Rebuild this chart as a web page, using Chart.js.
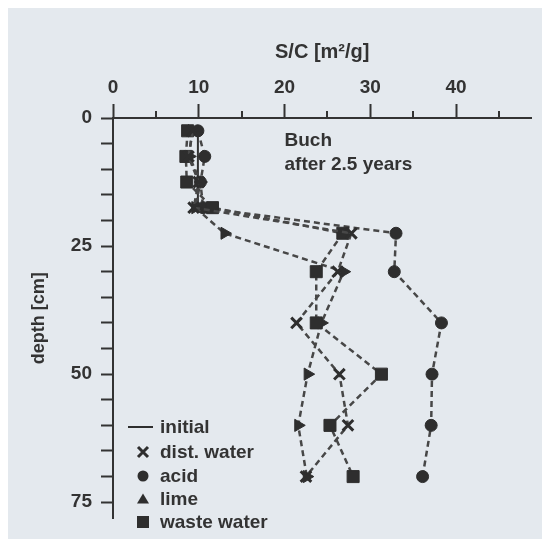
<!DOCTYPE html>
<html>
<head>
<meta charset="utf-8">
<script src="https://cdn.jsdelivr.net/npm/chart.js@4.4.0/dist/chart.umd.min.js"></script>
<style>
  html, body { margin: 0; padding: 0; background: #ffffff; }
  #c { display: block; }
</style>
</head>
<body>
<canvas id="c" width="542" height="539"></canvas>
<script>
// ---- data ----
const depths = [2.5, 7.5, 12.5, 17.5, 22.5, 30, 40, 50, 60, 70];
const initialDepths = [2.5, 7.5, 12.5, 17.5];
const initialValues = [9.9, 9.9, 9.9, 9.9];
const distWater = [9.3, 8.8, 10.0, 9.4, 27.8, 26.2, 21.4, 26.4, 27.4, 22.5];
const acid      = [9.9, 10.7, 10.2, 10.5, 33.0, 32.8, 38.3, 37.2, 37.1, 36.1];
const lime      = [9.2, 8.9, 10.2, 9.6, 13.0, 26.9, 24.3, 22.7, 21.6, 22.6];
const wasteWater= [8.7, 8.5, 8.6, 11.6, 26.8, 23.7, 23.7, 31.3, 25.3, 28.0];
const xTickLabels = [0, 10, 20, 30, 40];
const yTickLabels = [0, 25, 50, 75];
const seriesNames = ['initial', 'dist. water', 'acid', 'lime', 'waste water'];
const annotationLines = ['Buch', 'after 2.5 years'];

const ink = '#333333';
const markInk = '#2e2e2e';
const lineInk = '#474747';
const FONT = 'Liberation Sans, Arial, sans-serif';

function pts(vals, ds) { return vals.map((v, i) => ({ x: v, y: ds[i] })); }

const dashed = {
  showLine: true,
  borderColor: lineInk,
  borderWidth: 2.5,
  borderDash: [6, 4],
  pointBackgroundColor: markInk,
  pointBorderColor: markInk,
  tension: 0
};

const datasets = [
  { label: seriesNames[0], data: pts(initialValues, initialDepths), showLine: true,
    borderColor: ink, borderWidth: 2, pointRadius: 0, order: 5 },
  Object.assign({ label: seriesNames[2], data: pts(acid, depths), pointStyle: 'circle',
    pointRadius: 6, pointBorderWidth: 1, order: 4 }, dashed),
  Object.assign({ label: seriesNames[3], data: pts(lime, depths), pointStyle: 'triangle',
    pointRadius: 7, pointBorderWidth: 1, pointRotation: 90, order: 3 }, dashed),
  Object.assign({ label: seriesNames[4], data: pts(wasteWater, depths), pointStyle: 'rect',
    pointRadius: 8.5, pointBorderWidth: 1, order: 2 }, dashed),
  Object.assign({ label: seriesNames[1], data: pts(distWater, depths), pointStyle: 'crossRot',
    pointRadius: 7.5, pointBorderWidth: 3, order: 1 }, dashed)
];

const bgPlugin = {
  id: 'bg',
  beforeDraw(chart) {
    const ctx = chart.ctx;
    ctx.save();
    ctx.fillStyle = '#ffffff';
    ctx.fillRect(0, 0, chart.width, chart.height);
    ctx.fillStyle = '#e4e9ee';
    ctx.fillRect(8, 8, chart.width - 8, chart.height - 8);
    ctx.restore();
  }
};

const extrasPlugin = {
  id: 'extras',
  afterDraw(chart) {
    const ctx = chart.ctx;
    const xs = chart.scales.x, ys = chart.scales.y;
    const top = chart.chartArea.top;
    ctx.save();
    // minor ticks on top axis
    ctx.strokeStyle = ink;
    ctx.lineWidth = 2;
    for (let v = 5; v < xs.max; v += 10) {
      const px = Math.round(xs.getPixelForValue(v));
      ctx.beginPath();
      ctx.moveTo(px, top);
      ctx.lineTo(px, top - 7);
      ctx.stroke();
    }
    // annotation text
    ctx.fillStyle = ink;
    ctx.font = 'bold 19px ' + FONT;
    ctx.textAlign = 'left';
    ctx.textBaseline = 'alphabetic';
    const ax = xs.getPixelForValue(20.0);
    ctx.fillText(annotationLines[0], ax, ys.getPixelForValue(5.5));
    ctx.fillText(annotationLines[1], ax, ys.getPixelForValue(10.2));

    // legend
    const lx = chart.chartArea.left + 30;
    const tx = chart.chartArea.left + 47;
    const rows = [427, 452, 476, 499, 522];
    ctx.font = 'bold 19px ' + FONT;
    ctx.textBaseline = 'middle';
    const order = [0, 4, 1, 2, 3]; // dataset index per legend row
    rows.forEach((ry, i) => {
      const ds = chart.data.datasets[order[i]];
      ctx.fillStyle = ink;
      ctx.strokeStyle = markInk;
      if (i === 0) {
        ctx.lineWidth = 2;
        ctx.beginPath();
        ctx.moveTo(lx - 15, ry); ctx.lineTo(lx + 10, ry); ctx.stroke();
      } else {
        ctx.fillStyle = markInk;
        const st = ds.pointStyle;
        ctx.beginPath();
        if (st === 'crossRot') {
          ctx.lineWidth = 3;
          ctx.moveTo(lx - 5, ry - 5); ctx.lineTo(lx + 5, ry + 5);
          ctx.moveTo(lx + 5, ry - 5); ctx.lineTo(lx - 5, ry + 5);
          ctx.stroke();
        } else if (st === 'circle') {
          ctx.arc(lx, ry, 5.5, 0, Math.PI * 2); ctx.fill();
        } else if (st === 'triangle') {
          ctx.moveTo(lx, ry - 5.5); ctx.lineTo(lx + 6, ry + 4.5); ctx.lineTo(lx - 6, ry + 4.5);
          ctx.closePath(); ctx.fill();
        } else if (st === 'rect') {
          ctx.fillRect(lx - 6, ry - 6, 12, 12);
        }
      }
      ctx.fillStyle = ink;
      ctx.fillText(ds.label, tx, ry + 1);
    });
    ctx.restore();
  }
};

new Chart(document.getElementById('c'), {
  type: 'scatter',
  data: { datasets },
  plugins: [bgPlugin, extrasPlugin],
  options: {
    responsive: false,
    animation: false,
    devicePixelRatio: 1,
    layout: { padding: { left: 0, top: 0, right: 10, bottom: 9 } },
    plugins: { legend: { display: false }, tooltip: { enabled: false } },
    scales: {
      x: {
        type: 'linear',
        position: 'top',
        min: 0,
        max: 48.8,
        afterFit(s) { s.height = 118; },
        afterBuildTicks(s) { s.ticks = s.ticks.filter(t => t.value % 5 === 0); },
        ticks: {
          stepSize: 5,
          includeBounds: false,
          autoSkip: false,
          maxRotation: 0,
          padding: 5,
          color: ink,
          font: { family: FONT, size: 19, weight: 'bold' },
          callback: (v) => xTickLabels.includes(v) ? String(v) : ''
        },
        grid: {
          drawOnChartArea: false,
          drawTicks: true,
          tickLength: 14,
          tickWidth: 2,
          tickColor: (c) => (c.tick && c.tick.value % 10 === 0) ? ink : 'rgba(0,0,0,0)'
        },
        border: { display: true, color: ink, width: 2 },
        title: {
          display: true,
          text: 'S/C [m²/g]',
          color: ink,
          font: { family: FONT, size: 20, weight: 'bold' },
          padding: { top: 40, bottom: 0 }
        }
      },
      y: {
        type: 'linear',
        reverse: true,
        min: 0,
        max: 78.2,
        afterFit(s) { s.width = 113; },
        afterBuildTicks(s) { s.ticks = s.ticks.filter(t => t.value % 5 === 0); },
        ticks: {
          stepSize: 5,
          includeBounds: false,
          autoSkip: false,
          padding: 9,
          color: ink,
          font: { family: FONT, size: 19, weight: 'bold' },
          callback: (v) => yTickLabels.includes(v) ? String(v) : ''
        },
        grid: {
          drawOnChartArea: false,
          drawTicks: true,
          tickLength: 12,
          tickWidth: 2,
          tickColor: ink
        },
        border: { display: true, color: ink, width: 2 },
        title: {
          display: true,
          text: 'depth [cm]',
          color: ink,
          font: { family: FONT, size: 18, weight: 'bold' },
          padding: { top: 28, bottom: 0 }
        }
      }
    }
  }
});
</script>
</body>
</html>
